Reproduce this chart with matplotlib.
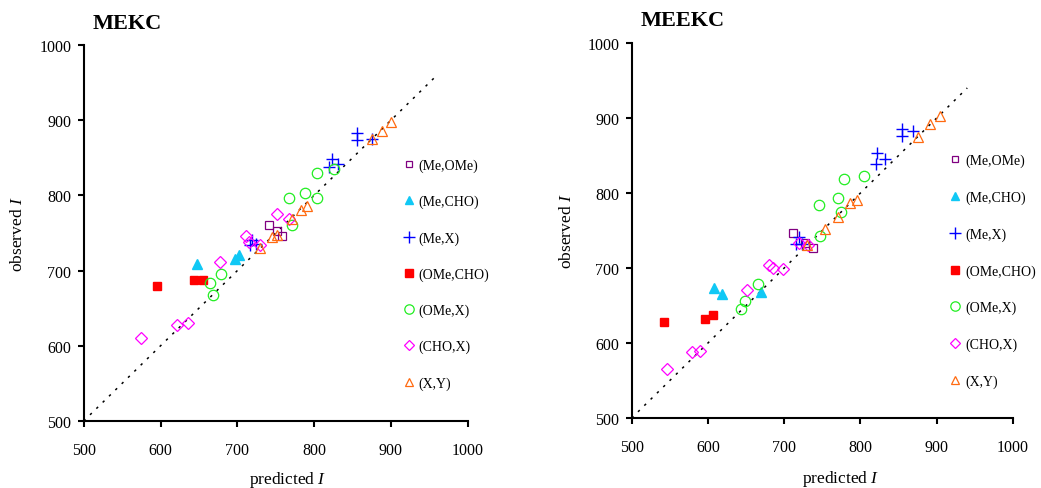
import matplotlib
matplotlib.use('Agg')
import matplotlib.pyplot as plt

plt.rcParams['font.family'] = ['Liberation Serif', 'DejaVu Serif']
plt.rcParams['mathtext.fontset'] = 'custom'
plt.rcParams['mathtext.rm'] = 'Liberation Serif'
plt.rcParams['mathtext.it'] = 'Liberation Serif:italic'

# substituent pairs
labels = ['(Me,OMe)', '(Me,CHO)', '(Me,X)', '(OMe,CHO)', '(OMe,X)', '(CHO,X)', '(X,Y)']

# MEKC: predicted / observed I
mekc_pred = [
    [741, 751, 758],
    [648, 697, 702],
    [856, 856, 875, 823, 819, 831, 719, 717, 724],
    [596, 644, 655],
    [664, 668, 679, 767, 788, 804, 804, 826, 771],
    [575, 622, 636, 678, 711, 715, 729, 752, 767],
    [730, 745, 751, 771, 783, 791, 875, 888, 900],
]
mekc_obs = [
    [760, 753, 746],
    [709, 715, 721],
    [883, 874, 875, 849, 838, 842, 741, 734, 735],
    [680, 687, 687],
    [683, 668, 696, 797, 803, 830, 796, 835, 761],
    [611, 627, 630, 711, 746, 738, 734, 775, 768],
    [730, 744, 747, 768, 781, 786, 875, 886, 898],
]

# MEEKC: predicted / observed I
meekc_pred = [
    [712, 727, 738],
    [608, 618, 669],
    [855, 855, 869, 822, 820, 832, 719, 715, 723],
    [543, 596, 607],
    [643, 648, 665, 746, 747, 771, 774, 779, 804],
    [546, 579, 589, 651, 680, 685, 698, 719, 731],
    [730, 754, 770, 786, 795, 875, 891, 904],
]
meekc_obs = [
    [746, 733, 726],
    [673, 666, 668],
    [885, 876, 882, 853, 838, 845, 741, 732, 732],
    [628, 632, 637],
    [645, 656, 679, 784, 743, 793, 774, 818, 823],
    [565, 588, 590, 671, 704, 700, 699, 733, 731],
    [731, 752, 768, 787, 791, 875, 892, 903],
]

# marker, colour, size, filled
styles = [
    ('s', '#800080', 5.5, False),
    ('^', '#10C8F5', 6.5, True),
    ('+', '#0000FF', 9, True),
    ('s', '#FF0000', 6, True),
    ('o', '#22EE22', 7.5, False),
    ('D', '#FF00FF', 6, False),
    ('^', '#FF6A10', 7, False),
]


def draw_panel(ax, pred, obs, title, line_end, leg_x, leg_y, leg_space, title_y):
    ax.plot([500, line_end], [500, line_end], color='black', lw=1.1,
            linestyle=(0, (1.6, 4.2)))
    for (m, c, s, filled), x, y, lab in zip(styles, pred, obs, labels):
        if filled:
            ax.plot(x, y, m, color=c, ms=s, mew=1.0, linestyle='none', label=lab)
        else:
            ax.plot(x, y, m, mfc='none', mec=c, ms=s, mew=0.9, linestyle='none', label=lab)
    ax.set_xlim(500, 1000)
    ax.set_ylim(500, 1000)
    ax.set_xticks(range(500, 1001, 100))
    ax.set_yticks(range(500, 1001, 100))
    ax.spines['top'].set_visible(False)
    ax.spines['right'].set_visible(False)
    ax.spines['left'].set_linewidth(1.5)
    ax.spines['bottom'].set_linewidth(1.5)
    ax.tick_params(axis='both', direction='out', length=4, width=1.5, labelsize=11.5)
    ax.tick_params(axis='x', pad=11)
    ax.tick_params(axis='y', pad=5)
    ax.set_xlabel('predicted $\\mathit{I}$', fontsize=12.5)
    ax.set_ylabel('observed $\\mathit{I}$', fontsize=12.5)
    ax.text(0.024, title_y, title, transform=ax.transAxes, fontsize=16,
            fontweight='bold', ha='left', va='center')
    ax.legend(loc='upper left', bbox_to_anchor=(leg_x, leg_y), frameon=False,
              fontsize=10, labelspacing=leg_space, handlelength=0.8, handletextpad=0.3,
              borderpad=0, borderaxespad=0, markerscale=0.9, numpoints=1)


fig = plt.figure(figsize=(10.41, 4.89), dpi=100)
ax1 = fig.add_axes([0.0804, 0.137, 0.369, 0.769])
ax2 = fig.add_axes([0.6068, 0.1431, 0.3663, 0.767])

draw_panel(ax1, mekc_pred, mekc_obs, 'MEKC', 960, 0.832, 0.698, 1.64, 1.058)
draw_panel(ax2, meekc_pred, meekc_obs, 'MEEKC', 940, 0.834, 0.705, 1.68, 1.06)

ax1.yaxis.set_label_coords(-0.15, 0.5)
ax1.xaxis.set_label_coords(0.53, -0.128)
ax2.yaxis.set_label_coords(-0.149, 0.5)
ax2.xaxis.set_label_coords(0.547, -0.133)

fig.savefig('out.png', dpi=100)
